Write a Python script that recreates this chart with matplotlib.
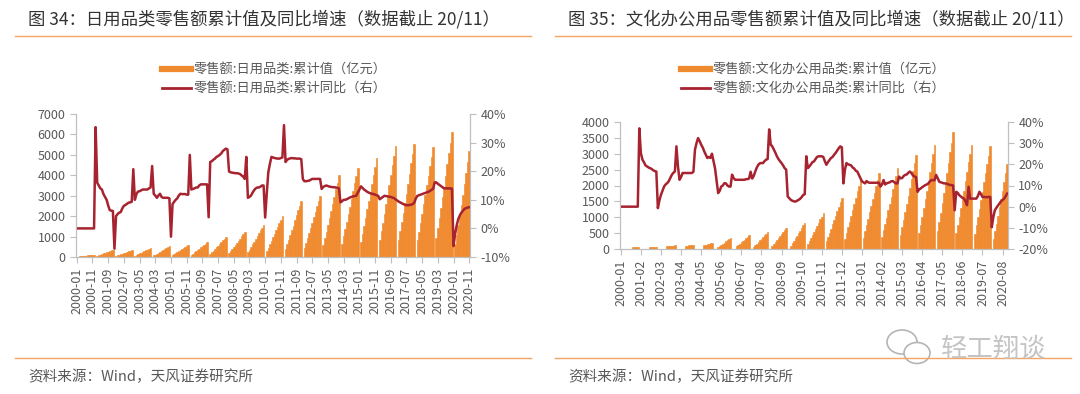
import matplotlib
matplotlib.use("Agg")
import matplotlib.pyplot as plt
import numpy as np
from matplotlib.lines import Line2D
from matplotlib.patches import Ellipse
from matplotlib.ticker import FuncFormatter

plt.rcParams['font.family'] = ['Noto Sans CJK SC', 'DejaVu Sans']

# ---- data (monthly, 2000-01 .. 2020-11) ----
years = list(range(2000, 2021))

# 日用品类 累计值 (亿元), one row per year Jan..Dec
daily_cum = [
    None, 17, 26, 36, 45, 55, 64, 75, 85, 95, 105, 115,
    None, 54, 83, 112, 140, 173, 202, 234, 266, 299, 328, 360,
    None, 50, 76, 102, 129, 158, 185, 215, 244, 274, 300, 330,
    None, 66, 101, 136, 172, 211, 246, 286, 326, 365, 400, 440,
    None, 78, 120, 161, 203, 250, 291, 338, 385, 432, 473, 520,
    None, 90, 138, 186, 234, 288, 336, 390, 444, 498, 546, 600,
    None, 108, 166, 223, 281, 346, 403, 468, 533, 598, 655, 720,
    None, 147, 225, 304, 382, 470, 549, 637, 725, 813, 892, 980,
    None, 183, 281, 378, 476, 586, 683, 793, 903, 1013, 1110, 1220,
    None, 237, 363, 490, 616, 758, 885, 1027, 1169, 1311, 1438, 1580,
    None, 302, 462, 623, 784, 965, 1126, 1307, 1487, 1668, 1829, 2010,
    None, 413, 633, 853, 1073, 1320, 1540, 1788, 2035, 2283, 2503, 2750,
    None, 450, 690, 930, 1170, 1440, 1680, 1950, 2220, 2490, 2730, 3000,
    None, 599, 918, 1237, 1556, 1915, 2234, 2594, 2953, 3312, 3631, 3990,
    None, 656, 1005, 1355, 1704, 2098, 2447, 2841, 3234, 3627, 3977, 4370,
    None, 729, 1118, 1507, 1895, 2333, 2722, 3159, 3596, 4034, 4423, 4860,
    None, 815, 1249, 1683, 2118, 2606, 3041, 3530, 4018, 4507, 4941, 5430,
    None, 828, 1270, 1711, 2153, 2650, 3091, 3588, 4085, 4582, 5023, 5520,
    None, 809, 1240, 1671, 2102, 2587, 3018, 3504, 3989, 4474, 4905, 5390,
    None, 920, 1410, 1900, 2391, 2942, 3433, 3985, 4536, 5088, 5578, 6130,
    None, 620, 1080, 1550, 2030, 2560, 3040, 3560, 4090, 4640, 5180,
]

# 日用品类 累计同比 (%)
daily_yoy = [
    0, 0, 0, 0, 0, 0, 0, 0, 0, 0, 0, 0,
    35.4, 16, 15, 14, 13.6, 12, 11, 10, 8, 6.4, 6.2, 6.1,
    -7.1, 4.3, 5, 5.5, 5.7, 7, 7.9, 8.2, 8.6, 9, 9.1, 9.3,
    20.7, 10, 12, 12.9, 13, 13.3, 13.6, 13.6, 13.6, 13.6, 14, 14.3,
    21.8, 12.1, 11.5, 10.7, 11.5, 12.1, 11, 10.7, 10.7, 10.7, 10.7, 10.5,
    -2.9, 8.5, 9.3, 10, 10.5, 11.5, 12.1, 12, 12, 12, 11.8, 11.8,
    25.7, 13.6, 13.8, 14, 14.3, 14.3, 15, 15.4, 15.4, 15.4, 15.4, 15.4,
    3.9, 23.2, 23.5, 24, 24.4, 25, 25.3, 25.7, 26.2, 27, 27.5, 27.9,
    27.6, 19.9, 19.6, 19.5, 19.4, 19.3, 19.3, 19.2, 19, 18.5, 18.1, 17.3,
    25, 10.7, 11, 11.5, 12.5, 13.4, 14, 14.3, 14.3, 14.6, 15, 15,
    3.8, 12, 19.6, 22.5, 25, 24.8, 24.6, 24.5, 24.4, 24.4, 24.6, 24.8,
    36.1, 23.2, 24, 24.3, 24.5, 24.6, 24.5, 24.5, 24.4, 24.4, 24.4, 24.2,
    17.3, 16.5, 16.5, 16.6, 16.7, 17, 17.3, 17.3, 17.3, 17.3, 17.3, 17.3,
    13.8, 14.5, 14.8, 15, 14.8, 14.6, 14.5, 14.4, 14.4, 14.3, 14.2, 14,
    9.1, 9.5, 10, 10, 10.2, 10.5, 10.8, 11, 11.2, 11.3, 11.4, 12.5,
    13.5, 14.7, 14.2, 13.6, 13.2, 12.8, 12.5, 12.3, 12.1, 12, 11.8, 11.6,
    11.4, 10.2, 10.6, 11, 11.4, 11.3, 11.2, 11.1, 11, 10.8, 10.6, 10.2,
    9.8, 9.4, 9.1, 8.8, 8.5, 8.3, 8.1, 8.1, 8.2, 8.3, 8.5, 9,
    10.5, 11.4, 11.6, 11.8, 12, 12.2, 12.4, 12.6, 12.8, 13.1, 13.5, 13.8,
    16.1, 16.1, 15.6, 15.2, 14.8, 14.4, 14, 14, 14, 14, 14, 13.9,
    -6.2, -2, 1, 3.2, 4.5, 5.5, 6.2, 6.8, 7.1, 7.3, 7.4,
]

# 文化办公用品类 累计值 (亿元)
office_cum = [
    None, None, None, None, None, None, None, None, 50, 52, 54, 55,
    None, None, None, None, None, None, None, 50, 53, 55, 58, 60,
    None, None, None, None, None, None, 80, 90, 98, 105, 110, 115,
    None, None, None, None, None, None, 95, 105, 112, 120, 126, 130,
    None, None, None, None, None, None, 120, 135, 150, 165, 178, 190,
    None, None, None, 60, 95, 130, 165, 200, 240, 275, 315, 355,
    None, None, None, 80, 120, 165, 205, 250, 295, 340, 385, 430,
    None, None, 70, 120, 170, 220, 275, 325, 380, 430, 485, 540,
    None, None, 90, 150, 210, 275, 335, 400, 460, 525, 590, 660,
    None, None, 110, 185, 260, 340, 415, 495, 580, 660, 745, 830,
    None, 168, 258, 347, 437, 538, 627, 728, 829, 930, 1019, 1120,
    None, 242, 370, 499, 628, 773, 902, 1047, 1191, 1336, 1465, 1610,
    None, 329, 504, 679, 854, 1051, 1226, 1424, 1621, 1818, 1993, 2190,
    None, 360, 552, 744, 936, 1152, 1344, 1560, 1776, 1992, 2184, 2400,
    None, 381, 584, 787, 991, 1219, 1422, 1651, 1880, 2108, 2311, 2540,
    None, 444, 681, 918, 1154, 1421, 1658, 1924, 2190, 2457, 2694, 2960,
    None, 492, 754, 1017, 1279, 1574, 1837, 2132, 2427, 2722, 2985, 3280,
    None, 552, 846, 1141, 1435, 1766, 2061, 2392, 2723, 3054, 3349, 3680,
    None, 494, 757, 1020, 1283, 1579, 1842, 2139, 2435, 2731, 2994, 3290,
    None, 485, 743, 1001, 1260, 1550, 1809, 2100, 2390, 2681, 2939, 3230,
    None, 330, 560, 800, 1040, 1320, 1560, 1840, 2110, 2390, 2670,
]

# 文化办公用品类 累计同比 (%)
office_yoy = [
    0, 0, 0, 0, 0, 0, 0, 0, 0, 0, 0, 0,
    37, 25.3, 22.2, 21, 19.5, 19, 18.5, 18.2, 17.8, 17.2, 16.8, 16.6,
    -0.7, 3, 5.6, 7.5, 9.5, 10.5, 11.1, 12, 13.5, 15, 16, 16.6,
    28.5, 19, 12.7, 14, 15.9, 15.9, 15.9, 15.9, 15.9, 15.9, 15.9, 16.5,
    26.9, 30, 32.4, 31, 29.3, 28, 26.1, 24.5, 23, 23.5, 23, 25,
    21.4, 18, 12, 6.4, 7.5, 9.5, 10, 11.1, 11, 10, 9.5, 9.5,
    15.1, 13.5, 12.7, 12.7, 12.7, 12.7, 12.7, 12.7, 12.7, 13, 13, 13.3,
    16.5, 13.3, 14.5, 16.6, 18.5, 19.8, 20.5, 20.6, 20.6, 21.5, 22.2, 22.5,
    36.5, 29.3, 28.5, 27, 25.5, 23.8, 22.5, 21.5, 20.6, 19.5, 18.2, 17.5,
    4.8, 4, 3.2, 2.8, 2.5, 2.4, 2.8, 3.2, 3.7, 4.5, 5.5, 5.9,
    23.8, 18.2, 19, 20, 21, 21.4, 22.5, 23.5, 23.8, 23.8, 23.8, 23.5,
    21.5, 19.8, 21, 22, 23, 23.5, 24.5, 25.4, 26.5, 27.6, 28.5, 28,
    11, 17.4, 20.6, 20, 19.8, 19.5, 18.5, 18, 17, 16.6, 15, 13.5,
    12, 11.5, 11, 12.1, 11.5, 11.3, 11.3, 11.3, 11.3, 11.3, 11.3, 11.3,
    9.5, 10.5, 12.6, 10.5, 11, 11.3, 11.5, 12, 12.1, 11.5, 11, 11,
    14.2, 13.4, 13.5, 14.5, 15, 15.2, 16, 16.6, 15.9, 14.8, 14.2, 14,
    7, 8.1, 8.6, 9.2, 9.7, 10.2, 10.5, 11, 12, 12.6, 12.5, 12.5,
    15, 13.5, 11.8, 11.5, 11.3, 11, 11, 10.8, 10.5, 10.2, 10.2, 10,
    -1.7, 7, 6.5, 5.4, 4.8, 4.2, 3.8, 2.5, 0.7, 9.4, 3.8, 3.8,
    3.8, 3.8, 3.8, 5, 7, 6, 4.6, 4.6, 4.5, 4.5, 4.6, 4.6,
    -9.7, -5, -1.7, -0.5, 0.5, 1.5, 2.5, 3.2, 3.8, 5, 6.2,
]

months = [f"{y}-{m:02d}" for y in years for m in range(1, 13)][:251]

bar_color = '#F08A2E'
line_color = '#A6232F'
rule_color = '#F5A462'
text_color = '#595959'
spine_color = '#BFBFBF'

W, H = 1080, 394
fig = plt.figure(figsize=(W / 100, H / 100), dpi=100)


def fx(px):
    return px / W


def fy(py):
    return 1 - py / H


def panel(rect, cum, yoy, ymax, ystep, pmin, pmax, tick_every, title, tx,
          rule, leg_x, labels):
    x = np.arange(len(months))
    ax = fig.add_axes(rect)
    # edge in the same colour closes the seams between neighbouring bars
    ax.bar(x, np.array(cum, dtype=float), width=1.0, color=bar_color,
           edgecolor=bar_color, linewidth=0.45)
    ax.set_xlim(-0.5, len(months) - 0.5)
    ax.set_ylim(0, ymax)
    ax.set_yticks(np.arange(0, ymax + 1, ystep))
    ticks = x[::tick_every]
    ax.set_xticks(ticks)
    ax.set_xticklabels([months[i] for i in ticks], rotation=90)

    ax2 = ax.twinx()
    ax2.plot(x, yoy, color=line_color, lw=1.8, solid_joinstyle='round')
    ax2.set_ylim(pmin, pmax)
    ax2.set_yticks(np.arange(pmin, pmax + 1, 10))
    ax2.yaxis.set_major_formatter(FuncFormatter(lambda v, p: f"{v:.0f}%"))

    for a in (ax, ax2):
        a.spines['top'].set_visible(False)
        for s in ('left', 'right', 'bottom'):
            a.spines[s].set_color(spine_color)
        a.tick_params(colors=spine_color, labelcolor=text_color,
                      labelsize=9, length=4, width=0.8)
    ax.patch.set_visible(False)

    fig.text(fx(tx), fy(19), title, fontsize=12.5, color='#333333',
             ha='left', va='center')
    fig.add_artist(Line2D([fx(rule[0]), fx(rule[1])], [fy(36), fy(36)],
                          color=rule_color, lw=1.0))
    fig.add_artist(Line2D([fx(rule[0]), fx(rule[1])], [fy(358), fy(358)],
                          color=rule_color, lw=1.0))
    fig.text(fx(tx), fy(377), '资料来源：Wind，天风证券研究所', fontsize=10.5,
             color=text_color, ha='left', va='center')

    handles = [Line2D([], [], color=bar_color, lw=4.5),
               Line2D([], [], color=line_color, lw=2)]
    fig.legend(handles, labels, loc='upper center',
               bbox_to_anchor=(fx(leg_x), fy(57)), frameon=False,
               fontsize=9.5, labelcolor=text_color, handlelength=2.2,
               handletextpad=0.2, labelspacing=0.45, borderpad=0)
    return ax


panel([fx(76), fy(257), fx(470) - fx(76), fy(114) - fy(257)],
      daily_cum, daily_yoy, 7000, 1000, -10, 40, 10,
      '图 34：日用品类零售额累计值及同比增速（数据截止 20/11）', 28, (15, 531), 274,
      ['零售额:日用品类:累计值（亿元）', '零售额:日用品类:累计同比（右）'])

panel([fx(620), fy(249), fx(1008) - fx(620), fy(122) - fy(249)],
      office_cum, office_yoy, 4000, 500, -20, 40, 13,
      '图 35：文化办公用品零售额累计值及同比增速（数据截止 20/11）', 568,
      (555, 1071), 813,
      ['零售额:文化办公用品类:累计值（亿元）', '零售额:文化办公用品类:累计同比（右）'])

# watermark
for cx, cy, w, h in [(902, 342, 30, 24), (917, 353, 26, 21)]:
    fig.add_artist(Ellipse((fx(cx), fy(cy)), w / W, h / H,
                           facecolor='white', edgecolor='#B5B5B5', lw=1.2))
fig.text(fx(994), fy(349), '轻工翔谈', fontsize=19, color='#C4C4C4',
         ha='center', va='center')

fig.savefig('out.png', dpi=100, facecolor='white')
